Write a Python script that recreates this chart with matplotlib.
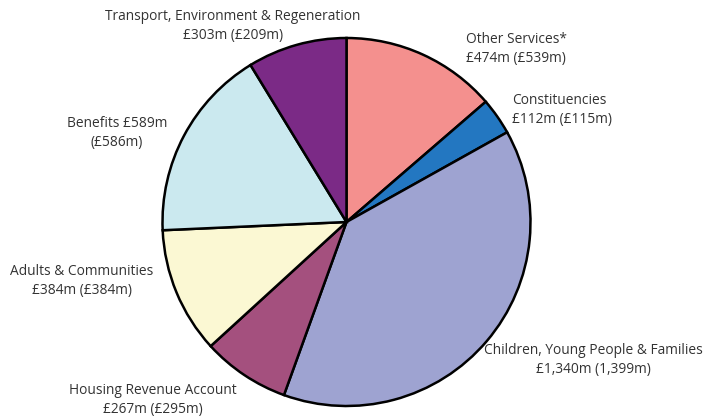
import matplotlib
matplotlib.use("Agg")
import matplotlib.pyplot as plt

# budget by directorate, £m (previous year in brackets)
services = ["Other Services*", "Constituencies", "Children, Young People & Families",
            "Housing Revenue Account", "Adults & Communities", "Benefits",
            "Transport, Environment & Regeneration"]
budget = [474, 112, 1340, 267, 384, 589, 303]
labels = ["Other Services*\n£474m (£539m)",
          "Constituencies\n£112m (£115m)",
          "Children, Young People & Families\n£1,340m (1,399m)",
          "Housing Revenue Account\n£267m (£295m)",
          "Adults & Communities\n£384m (£384m)",
          "Benefits £589m\n(£586m)",
          "Transport, Environment & Regeneration\n£303m (£209m)"]
colors = ["#F4908E", "#2377C1", "#9EA3D1", "#A4507E", "#FBF8D3", "#CBE9EF", "#7B2A86"]

# label centres in pixels (x from left, y from top)
label_pos = [(516, 49), (512, 110), (593, 360), (153, 400), (82, 281), (117, 133), (233, 26)]
label_ha = ["center", "left", "center", "center", "center", "center", "center"]

W, H = 722, 418
fig = plt.figure(figsize=(W / 100, H / 100), dpi=100)
cx, cy, r = 346.5, 222, 184
ax = fig.add_axes([(cx - r) / W, (H - cy - r) / H, 2 * r / W, 2 * r / H])
ax.pie(budget, colors=colors, startangle=90, counterclock=False, radius=1,
       wedgeprops=dict(edgecolor="black", linewidth=1.8))
ax.set_xlim(-1, 1)
ax.set_ylim(-1, 1)
ax.axis("off")

for lab, (x, y), ha in zip(labels, label_pos, label_ha):
    fig.text(x / W, 1 - y / H, lab, ha=ha, va="center", fontsize=9.9,
             color="#333333", family="Open Sans", linespacing=1.35,
             multialignment="center" if ha == "center" else "left")

fig.savefig("out.png", dpi=100)
